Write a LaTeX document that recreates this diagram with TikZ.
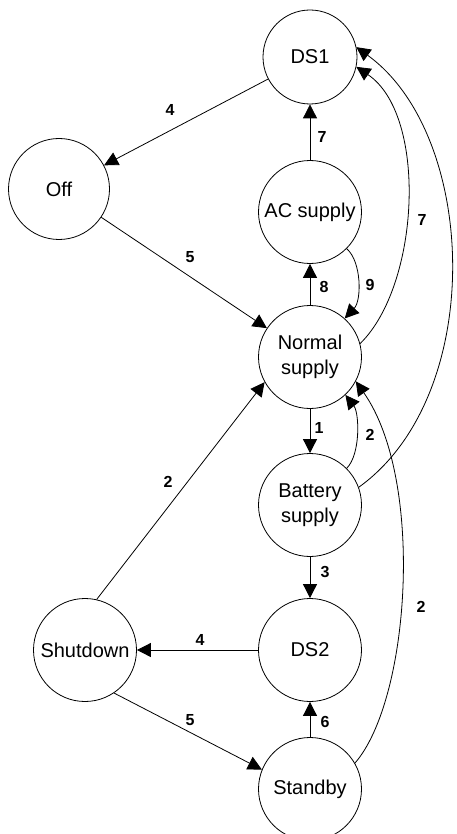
\documentclass[tikz,border=0pt]{standalone}
\usepackage{fontspec}
\setmainfont{Liberation Sans}
\usetikzlibrary{arrows.meta}
\begin{document}
\begin{tikzpicture}[x=1pt,y=-1pt,
  state/.style={draw,circle,line width=0.8pt,inner sep=0pt,minimum size=103pt,align=center,
    font=\fontsize{20}{25}\selectfont},
  lbl/.style={inner sep=0pt,font=\fontsize{16}{18}\selectfont\bfseries},
  arr/.style={line width=0.8pt,-{Triangle[length=14pt,width=14pt]}}]
\useasboundingbox (0,0) rectangle (457,834);
\node[state,minimum size=94pt] (ds1) at (310,57) {DS1};
\node[state,minimum size=101pt] (off) at (59,189) {Off};
\node[state] (ac) at (310,212) {AC supply};
\node[state] (ns) at (310,357) {Normal\\supply};
\node[state] (bs) at (310,505) {Battery\\supply};
\node[state] (ds2) at (310,650) {DS2};
\node[state] (sd) at (85,650) {Shutdown};
\node[state] (sb) at (310,789) {Standby};

\draw[arr] (ds1) -- (off);
\draw[arr] (off) -- (ns);
\draw[arr] (ac) -- (ds1);
\draw[arr] (ns) -- (ac);
\draw[arr] (ac.-45) .. controls +(15,13) and +(17,-18) .. (ns.48);
\draw[arr] (ns.15) .. controls (420,285) and (428,115) .. (ds1.-12);
\draw[arr] (bs.20) .. controls (487,395) and (478,135) .. (ds1.12);
\draw[arr] (ns) -- (bs);
\draw[arr] (bs.45) .. controls +(14,-14) and +(14,18) .. (ns.-47);
\draw[arr] (sb.30) .. controls (410,700) and (425,480) .. (ns.-28);
\draw[arr] (bs) -- (ds2);
\draw[arr] (ds2) -- (sd);
\draw[arr] (sd.77) -- (ns.209);
\draw[arr] (sd.-56) -- (sb.158);
\draw[arr] (sb) -- (ds2);

\node[lbl] (l4a) at (170,110) {4};
\node[lbl] (l5a) at (190,257) {5};
\node[lbl] (l7a) at (322,137) {7};
\node[lbl] (l7b) at (422,220) {7};
\node[lbl] (l8) at (324,287) {8};
\node[lbl] (l9) at (370,285) {9};
\node[lbl] (l1) at (319,428) {1};
\node[lbl] (l2a) at (370,435) {2};
\node[lbl] (l2b) at (168,482) {2};
\node[lbl] (l3) at (325,572) {3};
\node[lbl] (l2c) at (421,607) {2};
\node[lbl] (l4b) at (200,640) {4};
\node[lbl] (l5b) at (190,720) {5};
\node[lbl] (l6) at (325,722) {6};
\end{tikzpicture}
\end{document}
